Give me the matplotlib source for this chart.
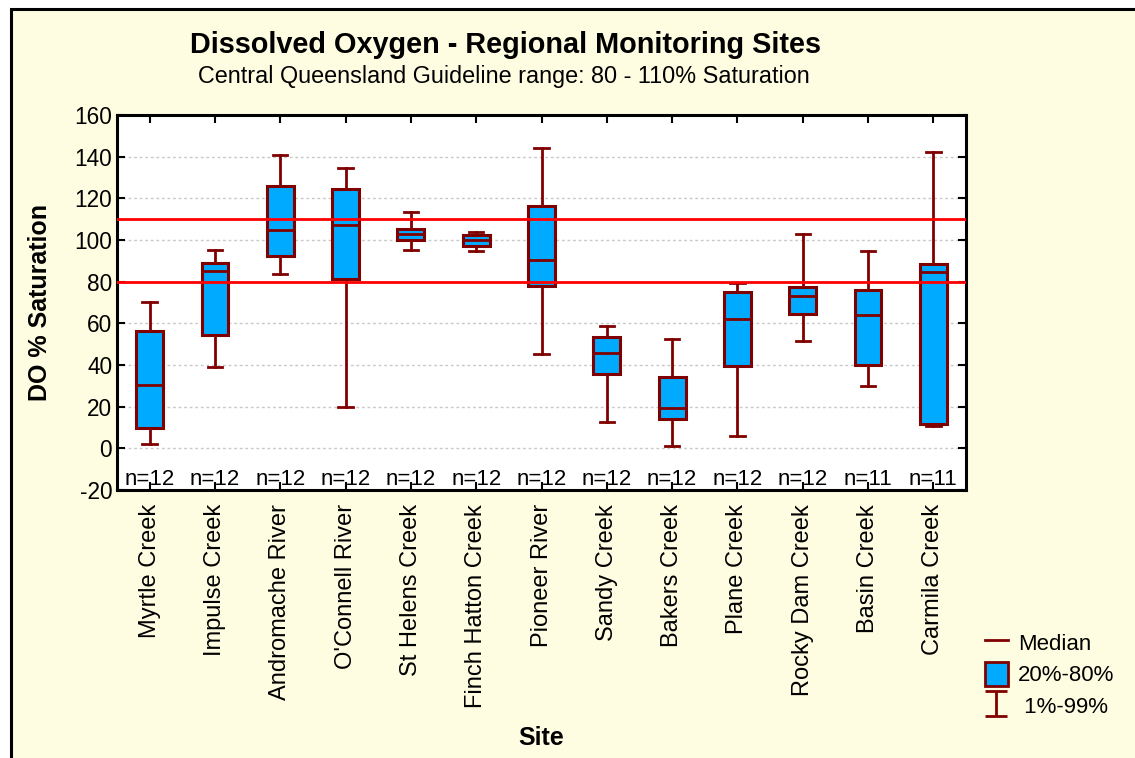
import matplotlib
matplotlib.use('Agg')
import matplotlib.pyplot as plt
import numpy as np
from matplotlib.lines import Line2D
from matplotlib.patches import Patch, Rectangle
from matplotlib.path import Path

plt.rcParams['font.family'] = ['Liberation Sans', 'DejaVu Sans']
plt.rcParams['axes.unicode_minus'] = False

# Box stats (1%, 20%, median, 80%, 99%)
sites = ['Myrtle Creek', 'Impulse Creek', 'Andromache River', "O'Connell River",
         'St Helens Creek', 'Finch Hatton Creek', 'Pioneer River', 'Sandy Creek',
         'Bakers Creek', 'Plane Creek', 'Rocky Dam Creek', 'Basin Creek', 'Carmila Creek']
p01 = [1.9, 39.0, 83.8, 19.7, 95.2, 94.9, 45.4, 12.8, 1.1, 5.9, 51.4, 29.8, 10.6]
p20 = [9.9, 54.4, 92.5, 81.3, 99.8, 97.3, 78.0, 35.8, 14.2, 39.4, 64.5, 39.8, 11.8]
median = [30.2, 85.1, 105.0, 107.2, 102.9, 100.0, 90.6, 45.8, 19.2, 62.2, 73.0, 63.8, 84.8]
p80 = [56.5, 89.0, 126.0, 124.5, 105.1, 102.4, 116.5, 53.4, 34.2, 74.9, 77.6, 76.0, 88.5]
p99 = [70.2, 95.4, 141.0, 134.7, 113.4, 103.8, 144.2, 58.6, 52.6, 79.4, 103.0, 94.9, 142.4]
n_obs = [12, 12, 12, 12, 12, 12, 12, 12, 12, 12, 12, 11, 11]
guideline = [80, 110]

dark_red = '#800000'
box_blue = '#00AAFF'
bg = '#FFFDE1'

fig = plt.figure(figsize=(11.35, 7.58), dpi=100, facecolor='white')
W, H = 1135, 758

# panel background with black frame (runs off the right/bottom edge)
fig.patches.append(Rectangle((11 / W, -0.02), 1.05, 1 - 8.5 / H + 0.02,
                             transform=fig.transFigure, facecolor=bg,
                             edgecolor='black', linewidth=2.2, zorder=-10))

ax = fig.add_axes([117 / W, 1 - 490 / H, (966 - 117) / W, (490 - 115) / H])
ax.set_facecolor('white')

stats = []
for i in range(len(sites)):
    stats.append({'whislo': p01[i], 'q1': p20[i], 'med': median[i],
                  'q3': p80[i], 'whishi': p99[i], 'fliers': []})

x = np.arange(len(sites))
ax.bxp(stats, positions=x, widths=0.41, patch_artist=True, showfliers=False,
       boxprops=dict(facecolor=box_blue, edgecolor=dark_red, linewidth=2.2),
       medianprops=dict(color=dark_red, linewidth=2),
       whiskerprops=dict(color=dark_red, linewidth=2),
       capprops=dict(color=dark_red, linewidth=2),
       capwidths=0.22, zorder=3)

for g in guideline:
    ax.axhline(g, color='#FF0000', linewidth=2, zorder=4)

for i, n in enumerate(n_obs):
    ax.text(x[i], -15, f'n={n}', ha='center', va='center', fontsize=16, zorder=5)

ax.set_xlim(-0.5, len(sites) - 0.5)
ax.set_ylim(-20, 160)
ax.set_yticks(np.arange(-20, 161, 20))
ax.set_xticks(x)
ax.set_xticklabels(sites, rotation=90, fontsize=17)
ax.tick_params(axis='y', labelsize=16.3)
ax.tick_params(direction='in', length=6, width=1.5, top=True, right=True, color='black')
ax.tick_params(axis='x', pad=10)
ax.yaxis.grid(True, linestyle=(0, (2, 2)), color='#C8C8C8', linewidth=1)
ax.set_axisbelow(True)
for s in ax.spines.values():
    s.set_linewidth(2.2)

ax.set_ylabel('DO % Saturation', fontsize=18, fontweight='bold', labelpad=16)
fig.text(541 / W, 1 - 738 / H, 'Site', ha='center', va='center', fontsize=18, fontweight='bold')

fig.text(505 / W, 1 - 45 / H, 'Dissolved Oxygen - Regional Monitoring Sites',
         ha='center', va='center', fontsize=20.8, fontweight='bold')
fig.text(504 / W, 1 - 77 / H, 'Central Queensland Guideline range: 80 - 110% Saturation',
         ha='center', va='center', fontsize=16.8)

# legend
ibar = Path([(-0.9, -1), (0.9, -1), (0, -1), (0, 1), (-0.9, 1), (0.9, 1)],
            [Path.MOVETO, Path.LINETO, Path.MOVETO, Path.LINETO, Path.MOVETO, Path.LINETO])
handles = [Line2D([], [], color=dark_red, linewidth=2),
           Patch(facecolor=box_blue, edgecolor=dark_red, linewidth=2),
           Line2D([], [], linestyle='none', marker=ibar, markersize=18,
                  markeredgecolor=dark_red, markeredgewidth=2)]
fig.legend(handles, ['Median', '20%-80%', ' 1%-99%'], loc='upper left',
           bbox_to_anchor=(978 / W, 1 - 624 / H), frameon=False, fontsize=16,
           handlelength=1.05, handleheight=1.3, handletextpad=0.45,
           labelspacing=0.3, borderaxespad=0, borderpad=0.3)

plt.savefig('out.png', dpi=100, facecolor=fig.get_facecolor())
